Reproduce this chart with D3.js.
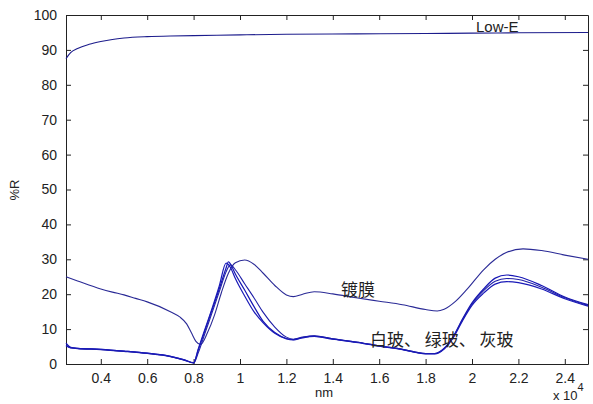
<!DOCTYPE html>
<html>
<head>
<meta charset="utf-8">
<script src="https://cdn.jsdelivr.net/npm/d3@7"></script>
<style>
  body { margin: 0; background: #fff; }
  text { font-family: "Liberation Sans", Arial, sans-serif; fill: #222; }
</style>
</head>
<body>
<div id="chart"></div>
<script>
// wavelength (x 10^4 nm) and %R values
const lowEX = [0.25, 0.27, 0.3, 0.35, 0.4, 0.45, 0.5, 0.6, 0.7, 0.8, 1.0, 1.2, 1.5, 1.8, 2.0, 2.2, 2.5];
const lowEY = [87.5, 89.2, 90.4, 91.6, 92.4, 93.0, 93.4, 93.8, 94.0, 94.1, 94.3, 94.5, 94.6, 94.7, 94.8, 94.9, 95.0];

const coatX = [0.25, 0.3, 0.4, 0.45, 0.5, 0.55, 0.6, 0.7, 0.74, 0.77, 0.79, 0.81, 0.83, 0.86, 0.89, 0.92, 0.95, 0.98,
  1.02, 1.06, 1.1, 1.15, 1.2, 1.23, 1.27, 1.32, 1.4, 1.5, 1.6, 1.7, 1.8, 1.85, 1.88, 1.93, 1.98, 2.05, 2.1, 2.15, 2.22, 2.3, 2.4, 2.5];
const coatY = [25, 23.8, 21.5, 20.6, 19.8, 18.8, 17.8, 15, 13.5, 11.5, 9, 6.5, 5.6, 9, 14, 20.5, 26, 29,
  29.8, 28.6, 26, 22.5, 19.8, 19.3, 20, 20.7, 20.1, 19, 18, 17, 15.6, 15.2, 15.7, 18, 21.5, 27, 30, 32, 33, 32.5, 31.2, 30];

const glassX = [0.25, 0.27, 0.3, 0.4, 0.5, 0.6, 0.7, 0.76, 0.8, 0.82, 0.85, 0.88, 0.91, 0.94, 0.95, 0.96, 0.98, 1.02, 1.06,
  1.1, 1.15, 1.2, 1.23, 1.27, 1.32, 1.4, 1.5, 1.6, 1.7, 1.8, 1.84, 1.88, 1.92, 1.96, 2.0, 2.05, 2.1, 2.15, 2.2, 2.3, 2.4, 2.5];
const whiteY = [6, 4.8, 4.5, 4.2, 3.7, 3.1, 2.2, 1.2, 0.3, 4, 9.8, 15.6, 21.4, 27.5, 29.3, 28.5, 25.8, 21.2, 16.5,
  12.2, 9, 7.3, 7, 7.6, 8, 7.2, 6.3, 5.2, 4.2, 3, 3, 4.5, 8, 13, 17.5, 21.5, 24.6, 25.5, 25, 22.5, 19.2, 17];
const greenY = [5.5, 4.6, 4.4, 4.1, 3.6, 3.0, 2.1, 1.1, 0.3, 3.2, 9, 14.8, 20.6, 26.4, 27.8, 28.4, 27, 23, 19,
  14.8, 10.6, 7.7, 7.1, 7.7, 8.1, 7.2, 6.3, 5.2, 4.2, 3, 3, 4.4, 7.8, 12.8, 17.2, 21, 23.7, 24.5, 24.2, 22, 19, 16.8];
const grayY = [5.2, 4.7, 4.5, 4.2, 3.7, 3.1, 2.2, 1.2, 0.4, 4.3, 10.2, 16, 22.2, 28.9, 28.5, 27.5, 24.5, 19.5, 15,
  11.8, 8.8, 7.2, 6.9, 7.5, 7.9, 7.1, 6.2, 5.1, 4.1, 2.9, 2.9, 4.3, 7.6, 12.5, 16.8, 20.3, 22.9, 23.6, 23.3, 21.5, 18.7, 16.6];

const xTicks = [0.4, 0.6, 0.8, 1, 1.2, 1.4, 1.6, 1.8, 2, 2.2, 2.4];
const yTicks = [0, 10, 20, 30, 40, 50, 60, 70, 80, 90, 100];

const width = 593;
const height = 404;
const margin = { top: 15, right: 5, bottom: 40, left: 66 };

const svg = d3.select("#chart")
    .append("svg")
    .attr("width", width)
    .attr("height", height);

const xScale = d3.scaleLinear()
    .domain([0.25, 2.5])
    .range([margin.left, width - margin.right]);

const yScale = d3.scaleLinear()
    .domain([0, 100])
    .range([height - margin.bottom, margin.top]);

// MATLAB style box with ticks inside on all four sides
const tickLen = 5;
svg.append("g")
    .attr("transform", `translate(0, ${height - margin.bottom})`)
    .call(d3.axisBottom(xScale).tickValues(xTicks).tickSizeInner(-tickLen).tickSizeOuter(0).tickPadding(9).tickFormat(d3.format("~g")))
    .call(g => g.selectAll("text").style("font-size", "14px"));

svg.append("g")
    .attr("transform", `translate(0, ${margin.top})`)
    .call(d3.axisTop(xScale).tickValues(xTicks).tickSizeInner(-tickLen).tickSizeOuter(0).tickFormat(""));

svg.append("g")
    .attr("transform", `translate(${margin.left}, 0)`)
    .call(d3.axisLeft(yScale).tickValues(yTicks).tickSizeInner(-tickLen).tickSizeOuter(0).tickPadding(9))
    .call(g => g.selectAll("text").style("font-size", "14px"));

svg.append("g")
    .attr("transform", `translate(${width - margin.right}, 0)`)
    .call(d3.axisRight(yScale).tickValues(yTicks).tickSizeInner(-tickLen).tickSizeOuter(0).tickFormat(""));

svg.selectAll(".domain").attr("stroke", "#222");
svg.selectAll(".tick line").attr("stroke", "#222");

// curves
const line = d3.line()
    .curve(d3.curveMonotoneX)
    .x(d => xScale(d[0]))
    .y(d => yScale(d[1]));

const series = [
    { x: lowEX, y: lowEY, color: "#1c1c8c", w: 1.1 },
    { x: coatX, y: coatY, color: "#2a2a96", w: 1.1 },
    { x: glassX, y: whiteY, color: "#1515b4", w: 1.2 },
    { x: glassX, y: greenY, color: "#1f1fa8", w: 1.1 },
    { x: glassX, y: grayY, color: "#1a1ab8", w: 1.2 }
];

series.forEach(s => {
    svg.append("path")
        .datum(s.x.map((v, i) => [v, s.y[i]]))
        .attr("d", line)
        .attr("fill", "none")
        .attr("stroke", s.color)
        .attr("stroke-width", s.w);
});

// annotations
svg.append("text")
    .attr("x", 476).attr("y", 32)
    .style("font-size", "15px")
    .text("Low-E");

svg.append("text")
    .attr("x", 341).attr("y", 296)
    .style("font-family", "'Noto Sans CJK SC', sans-serif")
    .style("font-size", "17px")
    .text("镀膜");

svg.append("text")
    .attr("x", 370).attr("y", 346)
    .style("font-family", "'Noto Sans CJK SC', sans-serif")
    .style("font-size", "17px")
    .attr("xml:space", "preserve")
    .text("白玻、 绿玻、 灰玻");

// axis labels
svg.append("text")
    .attr("text-anchor", "middle")
    .attr("transform", `translate(19, 190) rotate(-90)`)
    .style("font-size", "13px")
    .text("%R");

svg.append("text")
    .attr("x", 315).attr("y", 397)
    .style("font-size", "13px")
    .text("nm");

const sci = svg.append("text")
    .attr("x", 553).attr("y", 400)
    .style("font-size", "13px");
sci.append("tspan").text("x 10");
sci.append("tspan").attr("dy", -9).style("font-size", "11px").text("4");
</script>
</body>
</html>
